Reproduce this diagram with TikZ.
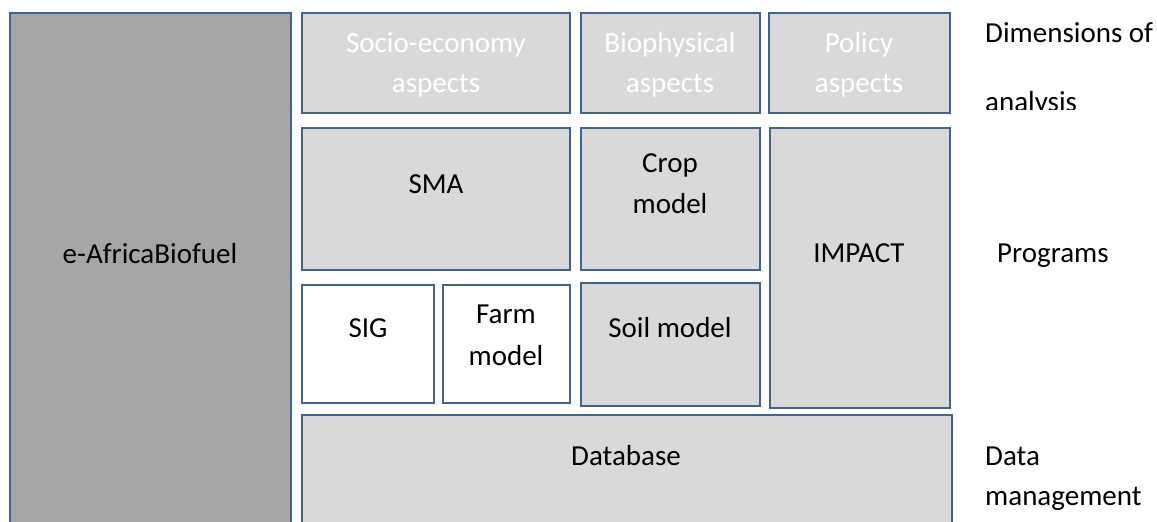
\documentclass[tikz,border=0pt]{standalone}
\usepackage{fontspec}
\setmainfont{Carlito}
\definecolor{edge}{HTML}{41648F}
\definecolor{lightfill}{HTML}{D9D9D9}
\definecolor{darkfill}{HTML}{A6A6A6}
\tikzset{
  box/.style={draw=edge, line width=2.9pt, fill=lightfill, anchor=north west, inner sep=0pt, outer sep=0pt},
  whitebox/.style={box, fill=white},
  darkbox/.style={box, fill=darkfill},
  txt/.style={font=\fontsize{29}{35}\selectfont, inner sep=0pt, anchor=base, text=black},
  wtxt/.style={txt, text=white},
  side/.style={txt, anchor=base west},
}
\begin{document}
\begin{tikzpicture}[x=1pt,y=-1pt]
\useasboundingbox (0,0) rectangle (1157,522);
\begin{scope}
\clip (0,0) rectangle (1157,522);
% boxes
\node[darkbox, minimum width=281pt, minimum height=525pt] (eab) at (10,13) {};
\node[box, minimum width=268pt, minimum height=100pt] (socio) at (302,13) {};
\node[box, minimum width=179pt, minimum height=100pt] (bio) at (581,13) {};
\node[box, minimum width=181pt, minimum height=100pt] (pol) at (769,13) {};
\node[box, minimum width=268pt, minimum height=142pt] (sma) at (302,128) {};
\node[box, minimum width=179pt, minimum height=142pt] (crop) at (581,128) {};
\node[box, minimum width=180pt, minimum height=280pt] (impact) at (770,128) {};
\node[whitebox, minimum width=132pt, minimum height=118pt] (sig) at (302,285) {};
\node[whitebox, minimum width=127pt, minimum height=118pt] (farm) at (443,285) {};
\node[box, minimum width=179pt, minimum height=123pt] (soil) at (581,283) {};
\node[box, minimum width=650pt, minimum height=125pt] (db) at (302,415) {};
\end{scope}
% texts in boxes
\node[txt] (eabt) at (150,263) {e-AfricaBiofuel};
\node[wtxt] (socio1) at (436,52) {Socio-economy};
\node[wtxt] (socio2) at (436,92) {aspects};
\node[wtxt] (bio1) at (670,52) {Biophysical};
\node[wtxt] (bio2) at (670,92) {aspects};
\node[wtxt] (pol1) at (859,52) {Policy};
\node[wtxt] (pol2) at (859,92) {aspects};
\node[txt] (smat) at (436,193) {SMA};
\node[txt] (crop1) at (670,172) {Crop};
\node[txt] (crop2) at (670,213) {model};
\node[txt] (impactt) at (859,262) {IMPACT};
\node[txt] (sigt) at (368,337) {SIG};
\node[txt] (farm1) at (506,323) {Farm};
\node[txt] (farm2) at (506,365) {model};
\node[txt] (soilt) at (670,337) {Soil model};
\node[txt] (dbt) at (626,465) {Database};
% side labels
\node[side] (dim1) at (985,42) {Dimensions of};
\begin{scope}
\clip (960,0) rectangle (1157,109);
\node[side] (dim2) at (985,111) {analysis};
\end{scope}
\node[side] (prog) at (997,262) {Programs};
\node[side] (data1) at (985,465) {Data};
\node[side] (data2) at (985,505) {management};
\end{tikzpicture}
\end{document}
